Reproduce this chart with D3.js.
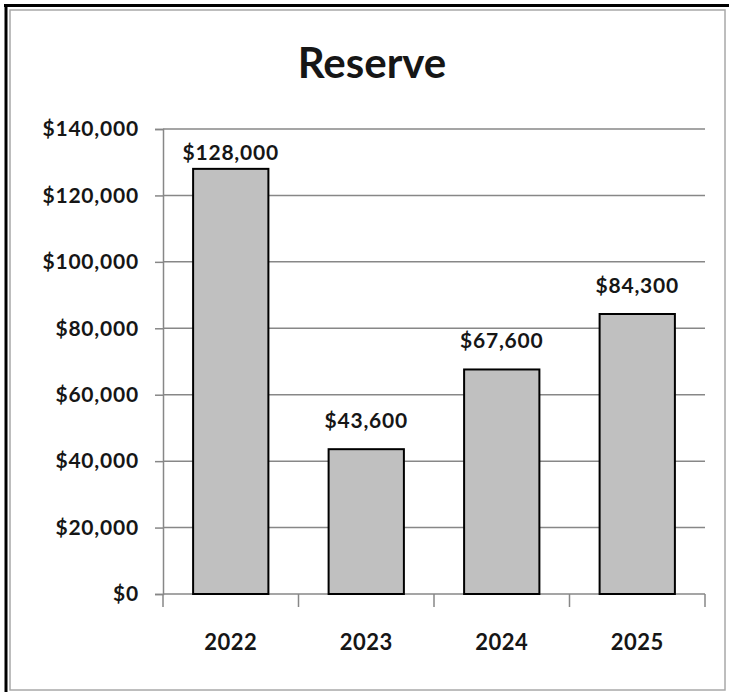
<!DOCTYPE html>
<html>
<head>
<meta charset="utf-8">
<script src="https://cdn.jsdelivr.net/npm/d3@7"></script>
<style>
  html, body { margin: 0; padding: 0; background: #fff; }
  svg { display: block; }
  text { font-family: Lato, "Open Sans", "Liberation Sans", sans-serif; font-weight: bold; fill: #161616; }
</style>
</head>
<body>
<svg id="chart" width="729" height="692"></svg>
<script>
const title = "Reserve";
const categories = ["2022", "2023", "2024", "2025"];
const values = [128000, 43600, 67600, 84300];
const yTicks = [0, 20000, 40000, 60000, 80000, 100000, 120000, 140000];

const svg = d3.select("#chart");
const W = 729, H = 692;
const plot = { left: 163, right: 705, top: 129, bottom: 594 };

// frame
svg.append("rect").attr("x", 0).attr("y", 0).attr("width", W).attr("height", H).attr("fill", "#fff");
svg.append("rect").attr("x", 10).attr("y", 10).attr("width", 715).attr("height", 680)
  .attr("fill", "none").attr("stroke", "#a8a8a8").attr("stroke-width", 1.5);
svg.append("line").attr("x1", 6).attr("x2", 6).attr("y1", 4).attr("y2", H).attr("stroke", "#000").attr("stroke-width", 3);
svg.append("line").attr("x1", 4).attr("x2", W).attr("y1", 5.5).attr("y2", 5.5).attr("stroke", "#000").attr("stroke-width", 3);

const x = d3.scaleBand().domain(categories).range([plot.left, plot.right])
  .paddingInner(0.4444).paddingOuter(0.2222);
const y = d3.scaleLinear().domain([0, 140000]).range([plot.bottom, plot.top]);
const step = x.step();

const gridColor = "#878787";

// gridlines
svg.append("g").selectAll("line").data(yTicks.filter(d => d > 0)).join("line")
  .attr("x1", plot.left).attr("x2", plot.right)
  .attr("y1", d => y(d)).attr("y2", d => y(d))
  .attr("stroke", gridColor).attr("stroke-width", 1.5);

// y axis
const yAxis = d3.axisLeft(y).tickValues(yTicks).tickSize(8).tickPadding(16)
  .tickFormat(d => "$" + d3.format(",")(d));
const gy = svg.append("g").attr("transform", `translate(${plot.left},0)`).call(yAxis);
gy.select(".domain").attr("stroke", gridColor).attr("stroke-width", 1.5);
gy.selectAll(".tick line").attr("stroke", gridColor).attr("stroke-width", 1.5);
gy.selectAll(".tick text").attr("font-family", "Lato, sans-serif").attr("font-weight", "bold")
  .attr("font-size", 21).attr("fill", "#161616").style("letter-spacing", "0.8px");

// x axis line and boundary ticks
svg.append("line").attr("x1", plot.left).attr("x2", plot.right)
  .attr("y1", plot.bottom).attr("y2", plot.bottom)
  .attr("stroke", gridColor).attr("stroke-width", 1.5);
const boundaries = categories.map(c => x(c) - (step - x.bandwidth()) / 2).concat([plot.right]);
svg.append("g").selectAll("line").data(boundaries).join("line")
  .attr("x1", d => d).attr("x2", d => d)
  .attr("y1", plot.bottom).attr("y2", plot.bottom + 13)
  .attr("stroke", gridColor).attr("stroke-width", 1.5);

// x labels
svg.append("g").selectAll("text").data(categories).join("text")
  .attr("x", d => x(d) + x.bandwidth() / 2).attr("y", 650)
  .attr("text-anchor", "middle").attr("font-size", 22)
  .style("letter-spacing", "0.5px")
  .text(d => d);

// bars
svg.append("g").selectAll("rect").data(values).join("rect")
  .attr("x", (d, i) => x(categories[i]))
  .attr("y", d => y(d))
  .attr("width", x.bandwidth())
  .attr("height", d => y(0) - y(d))
  .attr("fill", "#c0c0c0").attr("stroke", "#000").attr("stroke-width", 2);

// data labels
svg.append("g").selectAll("text").data(values).join("text")
  .attr("x", (d, i) => x(categories[i]) + x.bandwidth() / 2)
  .attr("y", d => Math.max(y(d) - 21, plot.top + 31))
  .attr("text-anchor", "middle").attr("font-size", 21)
  .style("letter-spacing", "0.8px")
  .text(d => "$" + d3.format(",")(d));

// title
svg.append("text").attr("x", 372).attr("y", 78).attr("text-anchor", "middle")
  .attr("font-size", 42).attr("fill", "#000").text(title);
</script>
</body>
</html>
